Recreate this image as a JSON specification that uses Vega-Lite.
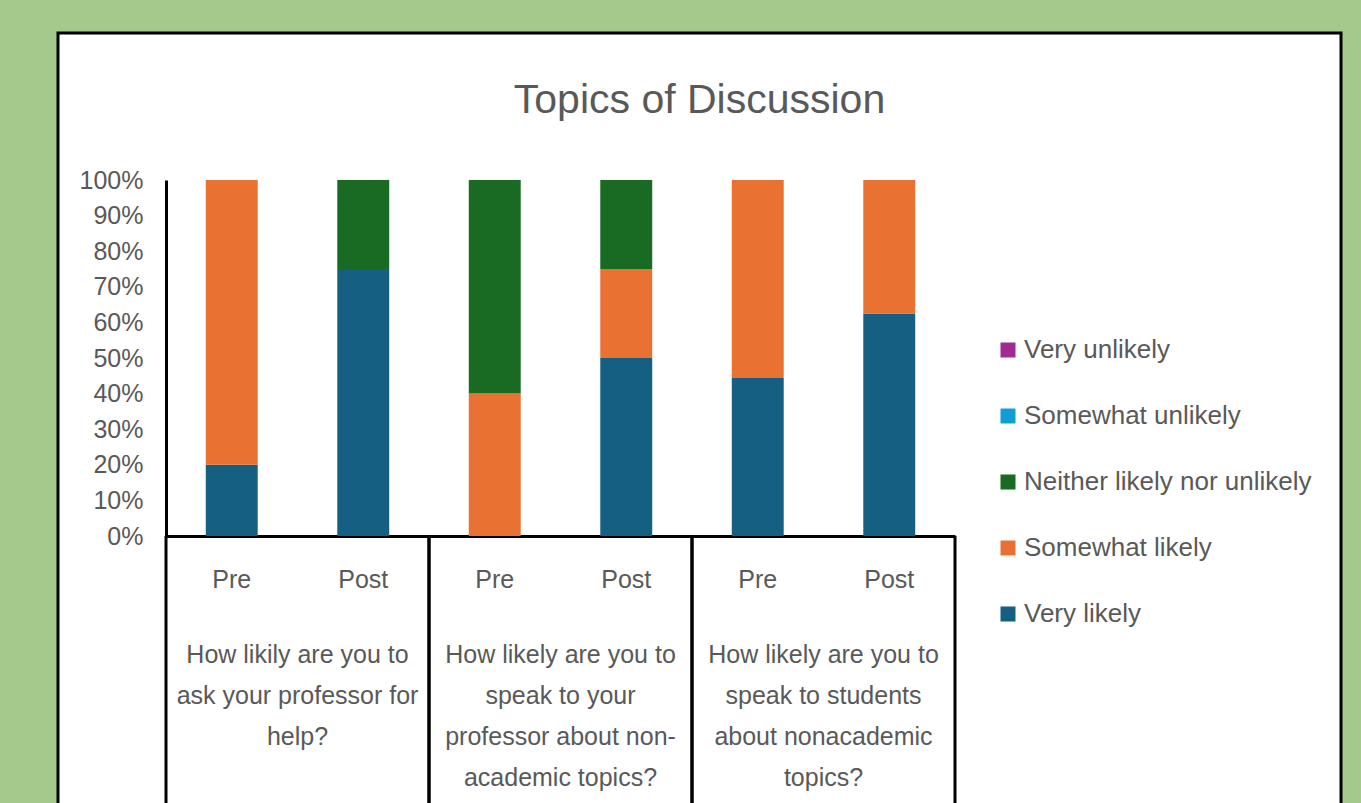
{
  "$schema": "https://vega.github.io/schema/vega-lite/v6.json",
  "width": 1283,
  "height": 780,
  "autosize": {"type": "none"},
  "padding": {"left": 58, "top": 33, "right": 20, "bottom": -10},
  "background": "#a5c98c",
  "config": {
    "view": {"fill": "white", "stroke": "black", "strokeWidth": 3},
    "font": "Liberation Sans"
  },
  "title": {
    "text": "Topics of Discussion",
    "fontSize": 41,
    "fontWeight": "normal",
    "color": "#595959",
    "anchor": "middle",
    "baseline": "alphabetic",
    "offset": -121,
    "frame": "group"
  },
  "datasets": {
    "responses": [
      {"question": "How likily are you to|ask your professor for|help?", "phase": "Pre", "response": "Very likely", "rank": 1, "share": 0.2},
      {"question": "How likily are you to|ask your professor for|help?", "phase": "Pre", "response": "Somewhat likely", "rank": 2, "share": 0.8},
      {"question": "How likily are you to|ask your professor for|help?", "phase": "Post", "response": "Very likely", "rank": 1, "share": 0.75},
      {"question": "How likily are you to|ask your professor for|help?", "phase": "Post", "response": "Neither likely nor unlikely", "rank": 3, "share": 0.25},
      {"question": "How likely are you to|speak to your|professor about non-|academic topics?", "phase": "Pre", "response": "Somewhat likely", "rank": 2, "share": 0.4},
      {"question": "How likely are you to|speak to your|professor about non-|academic topics?", "phase": "Pre", "response": "Neither likely nor unlikely", "rank": 3, "share": 0.6},
      {"question": "How likely are you to|speak to your|professor about non-|academic topics?", "phase": "Post", "response": "Very likely", "rank": 1, "share": 0.5},
      {"question": "How likely are you to|speak to your|professor about non-|academic topics?", "phase": "Post", "response": "Somewhat likely", "rank": 2, "share": 0.25},
      {"question": "How likely are you to|speak to your|professor about non-|academic topics?", "phase": "Post", "response": "Neither likely nor unlikely", "rank": 3, "share": 0.25},
      {"question": "How likely are you to|speak to students|about nonacademic|topics?", "phase": "Pre", "response": "Very likely", "rank": 1, "share": 0.444},
      {"question": "How likely are you to|speak to students|about nonacademic|topics?", "phase": "Pre", "response": "Somewhat likely", "rank": 2, "share": 0.556},
      {"question": "How likely are you to|speak to students|about nonacademic|topics?", "phase": "Post", "response": "Very likely", "rank": 1, "share": 0.625},
      {"question": "How likely are you to|speak to students|about nonacademic|topics?", "phase": "Post", "response": "Somewhat likely", "rank": 2, "share": 0.375}
    ],
    "phases": [
      {"question": "How likily are you to|ask your professor for|help?", "phase": "Pre"},
      {"question": "How likily are you to|ask your professor for|help?", "phase": "Post"},
      {"question": "How likely are you to|speak to your|professor about non-|academic topics?", "phase": "Pre"},
      {"question": "How likely are you to|speak to your|professor about non-|academic topics?", "phase": "Post"},
      {"question": "How likely are you to|speak to students|about nonacademic|topics?", "phase": "Pre"},
      {"question": "How likely are you to|speak to students|about nonacademic|topics?", "phase": "Post"}
    ],
    "questions": [
      {"question": "How likily are you to|ask your professor for|help?"},
      {"question": "How likely are you to|speak to your|professor about non-|academic topics?"},
      {"question": "How likely are you to|speak to students|about nonacademic|topics?"}
    ]
  },
  "layer": [
    {
      "data": {"name": "responses"},
      "mark": {"type": "bar"},
      "encoding": {
        "x": {
          "field": "question",
          "type": "nominal",
          "scale": {
            "domain": [
              "How likily are you to|ask your professor for|help?",
              "How likely are you to|speak to your|professor about non-|academic topics?",
              "How likely are you to|speak to students|about nonacademic|topics?"
            ],
            "range": [108, 897],
            "paddingInner": 0,
            "paddingOuter": 0
          },
          "axis": {
            "orient": "bottom",
            "offset": -277,
            "domainColor": "black",
            "domainWidth": 3,
            "ticks": false,
            "grid": false,
            "title": null,
            "labelExpr": "split(datum.label, '|')",
            "labelFontSize": 25,
            "labelColor": "#595959",
            "labelPadding": 106,
            "labelBaseline": "top",
            "labelLineHeight": 41,
            "labelAngle": 0,
            "labelLimit": 0
          }
        },
        "xOffset": {
          "field": "phase",
          "type": "nominal",
          "scale": {"domain": ["Pre", "Post"], "paddingInner": 0.605, "paddingOuter": 0.3025}
        },
        "y": {
          "field": "share",
          "type": "quantitative",
          "stack": "zero",
          "scale": {"domain": [0, 1], "range": [503, 147], "nice": false},
          "axis": {
            "orient": "left",
            "offset": -108,
            "values": [0, 0.1, 0.2, 0.3, 0.4, 0.5, 0.6, 0.7, 0.8, 0.9, 1],
            "format": ".0%",
            "domainColor": "black",
            "domainWidth": 3,
            "ticks": false,
            "grid": false,
            "title": null,
            "labelFontSize": 25,
            "labelColor": "#595959",
            "labelPadding": 23
          }
        },
        "color": {
          "field": "response",
          "type": "nominal",
          "scale": {
            "domain": ["Very unlikely", "Somewhat unlikely", "Neither likely nor unlikely", "Somewhat likely", "Very likely"],
            "range": ["#a02b93", "#0f9ed5", "#196b24", "#e97132", "#156082"]
          },
          "legend": {
            "orient": "none",
            "legendX": 937,
            "legendY": 304,
            "title": null,
            "direction": "vertical",
            "symbolType": "square",
            "symbolSize": 225,
            "symbolStrokeWidth": 0,
            "labelFontSize": 26,
            "labelColor": "#595959",
            "labelOffset": 3,
            "labelLimit": 0,
            "rowPadding": 40
          }
        },
        "order": {"field": "rank", "type": "quantitative"}
      }
    },
    {
      "data": {"name": "phases"},
      "mark": {"type": "text", "fontSize": 25, "color": "#595959", "baseline": "middle"},
      "encoding": {
        "x": {"field": "question", "type": "nominal"},
        "xOffset": {"field": "phase", "type": "nominal"},
        "y": {"datum": -0.124, "type": "quantitative"},
        "text": {"field": "phase"}
      }
    },
    {
      "data": {"name": "questions"},
      "mark": {"type": "rule", "color": "black", "strokeWidth": 3},
      "encoding": {
        "x": {"field": "question", "type": "nominal", "bandPosition": 0},
        "y": {"datum": 0, "type": "quantitative"},
        "y2": {"datum": -0.8}
      }
    },
    {
      "data": {"name": "questions"},
      "mark": {"type": "rule", "color": "black", "strokeWidth": 3},
      "encoding": {
        "x": {"field": "question", "type": "nominal", "bandPosition": 1},
        "y": {"datum": 0, "type": "quantitative"},
        "y2": {"datum": -0.8}
      }
    }
  ]
}
